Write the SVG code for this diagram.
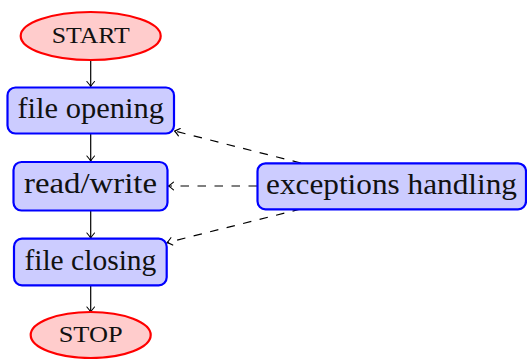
<svg xmlns="http://www.w3.org/2000/svg" width="527" height="359" viewBox="0 0 527 359">
  <defs>
    <marker id="arr" markerUnits="userSpaceOnUse" markerWidth="12" markerHeight="12" viewBox="-8 -6 10 12" refX="0" refY="0" orient="auto">
      <path d="M -5 -3.8 Q -1.5 -0.8 0 0 Q -1.5 0.8 -5 3.8" fill="none" stroke="#000" stroke-width="1.1" stroke-linecap="round" stroke-linejoin="round"/>
    </marker>
    <style>
      .term { fill: #ffcccc; stroke: #ff0000; stroke-width: 2.2; }
      .proc { fill: #ccccff; stroke: #0000ff; stroke-width: 2.2; }
      .lbl { font-family: "Liberation Serif", "DejaVu Serif", serif; font-size: 29px; fill: #111; text-anchor: middle; }
      .sc { font-family: "Liberation Serif", "DejaVu Serif", serif; font-size: 22.5px; fill: #111; text-anchor: middle; }
      .edge { fill: none; stroke: #000; stroke-width: 1.2; marker-end: url(#arr); }
      .dash { stroke-dasharray: 8.5 8.5; }
    </style>
  </defs>

  <g id="connectors">
    <line class="edge" x1="90.7" y1="60" x2="90.7" y2="86.5"/>
    <line class="edge" x1="90.7" y1="133.5" x2="90.7" y2="161"/>
    <line class="edge" x1="90.7" y1="210.5" x2="90.7" y2="238"/>
    <line class="edge" x1="90.7" y1="285.5" x2="90.7" y2="312"/>
    <line class="edge dash" x1="300.8" y1="163" x2="174.5" y2="131"/>
    <line class="edge dash" x1="257" y1="186" x2="168.5" y2="186"/>
    <line class="edge dash" x1="300.8" y1="209" x2="167" y2="242.6"/>
  </g>

  <g id="start">
    <ellipse class="term" cx="90.7" cy="36" rx="70" ry="24"/>
    <text class="sc" x="90.7" y="43" textLength="78" lengthAdjust="spacingAndGlyphs">START</text>
  </g>

  <g id="file-opening">
    <rect class="proc" x="7.5" y="87.5" width="166.5" height="46" rx="8" ry="8"/>
    <text class="lbl" x="90.7" y="118" textLength="146.5" lengthAdjust="spacingAndGlyphs">file opening</text>
  </g>

  <g id="read-write">
    <rect class="proc" x="13.5" y="162" width="154" height="48.5" rx="8" ry="8"/>
    <text class="lbl" x="90.5" y="193.3" textLength="133" lengthAdjust="spacingAndGlyphs">read/write</text>
  </g>

  <g id="file-closing">
    <rect class="proc" x="14" y="238.7" width="152.7" height="46.6" rx="8" ry="8"/>
    <text class="lbl" x="90.4" y="269.5" textLength="132" lengthAdjust="spacingAndGlyphs">file closing</text>
  </g>

  <g id="stop">
    <ellipse class="term" cx="90.7" cy="335" rx="60" ry="23"/>
    <text class="sc" x="90.7" y="342" textLength="64" lengthAdjust="spacingAndGlyphs">STOP</text>
  </g>

  <g id="exceptions-handling">
    <rect class="proc" x="257.5" y="163.3" width="268.5" height="46" rx="8" ry="8"/>
    <text class="lbl" x="391.5" y="193.5" textLength="251" lengthAdjust="spacingAndGlyphs">exceptions handling</text>
  </g>
</svg>
